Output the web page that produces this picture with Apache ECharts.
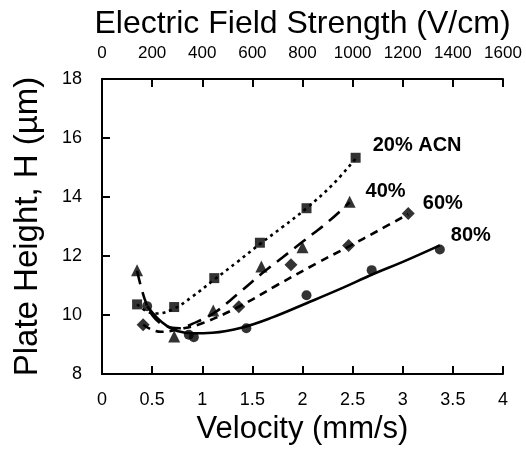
<!DOCTYPE html>
<html><head><meta charset="utf-8">
<script src="https://cdn.jsdelivr.net/npm/echarts@6/dist/echarts.min.js"></script>
<style>html,body{margin:0;padding:0;background:#fff}#c{width:526px;height:450px}</style>
</head><body><div id="c"></div>
<script>
// Measured points [velocity mm/s, plate height um]
const pts20 = [[0.35,10.36],[0.72,10.27],[1.12,11.25],[1.575,12.45],[2.04,13.62],[2.53,15.33]];
const pts40 = [[0.35,11.52],[0.72,9.27],[1.11,10.15],[1.59,11.64],[2.0,12.3],[2.47,13.84]];
const pts60 = [[0.41,9.67],[1.365,10.28],[1.885,11.7],[2.46,12.36],[3.055,13.44]];
const pts80 = [[0.45,10.3],[0.866,9.33],[0.916,9.25],[1.44,9.55],[2.04,10.67],[2.69,11.52],[3.37,12.22]];
// Fitted curves
const fit20 = [[0.35,10.36],[0.45,10.12],[0.55,10.05],[0.72,10.22],[0.9,10.62],[1.12,11.2],[1.35,11.8],[1.58,12.42],[1.8,12.98],[2.04,13.62],[2.3,14.42],[2.53,15.3]];
const fit40 = [[0.35,11.5],[0.42,10.6],[0.5,10.0],[0.62,9.65],[0.77,9.55],[0.9,9.7],[1.11,10.05],[1.35,10.7],[1.6,11.42],[1.8,11.95],[2.0,12.48],[2.27,13.2],[2.47,13.82]];
const fit60 = [[0.41,9.67],[0.5,9.5],[0.59,9.43],[0.77,9.52],[1.0,9.72],[1.365,10.28],[1.74,11.0],[2.14,11.75],[2.46,12.32],[2.75,12.85],[3.055,13.42]];
const fit80 = [[0.45,10.3],[0.55,9.9],[0.65,9.62],[0.75,9.46],[0.9,9.38],[1.1,9.4],[1.4,9.58],[1.7,9.92],[2.04,10.4],[2.4,10.92],[2.7,11.38],[3.0,11.8],[3.37,12.36]];
const seriesNames = ['20% ACN','40%','60%','80%'];
const xTicks = [0,0.5,1,1.5,2,2.5,3,3.5,4];
const topTicks = [0,200,400,600,800,1000,1200,1400,1600];
const yTicks = [8,10,12,14,16,18];

const FONT = 'Liberation Sans, Arial, sans-serif';
const chart = echarts.init(document.getElementById('c'), null, {renderer:'canvas'});

function markers(name, pts, symbol, size, off){
  return {
    name, type:'scatter', xAxisIndex:0, yAxisIndex:0, symbol, symbolSize:size,
    itemStyle:{color:'#000'}, z:5,
    data: pts.map((p,i)=> i===pts.length-1 ? {value:p, label:{show:true, formatter:name, position:'right', offset:off,
      fontFamily:FONT, fontWeight:'bold', fontSize:20, color:'#000', opacity:1}} : {value:p})
  };
}
function curve(name, pts, type){
  return {name:name+' fit', type:'line', xAxisIndex:0, yAxisIndex:0, smooth:0.4, symbol:'none', data:pts,
    lineStyle:{color:'#000', width:2.6, type}, z:3};
}
const axisCommon = {
  axisLine:{show:true, onZero:false, lineStyle:{color:'#000', width:2}},
  axisTick:{show:true, inside:true, length:8, lineStyle:{color:'#000', width:2}},
  splitLine:{show:false},
  nameTextStyle:{fontFamily:FONT, fontSize:31, color:'#000'},
  nameLocation:'middle'
};
chart.setOption({
  animation:false,
  backgroundColor:'#fff',
  grid:{left:102, right:23, top:79, bottom:76},
  xAxis:[
    Object.assign({}, axisCommon, {type:'value', position:'bottom', min:xTicks[0], max:xTicks[xTicks.length-1], interval:0.5,
      name:'Velocity (mm/s)', nameGap:38,
      axisLabel:{fontFamily:FONT, fontSize:18, color:'#000', margin:17, formatter:v=>String(v)}}),
    Object.assign({}, axisCommon, {type:'value', position:'top', min:topTicks[0], max:topTicks[topTicks.length-1], interval:200,
      name:'Electric Field Strength (V/cm)', nameGap:39, nameTextStyle:{fontFamily:FONT, fontSize:32, color:'#000'},
      axisLabel:{fontFamily:FONT, fontSize:17, color:'#000', margin:17, formatter:v=>String(v)}})
  ],
  yAxis:[
    Object.assign({}, axisCommon, {type:'value', position:'left', min:yTicks[0], max:yTicks[yTicks.length-1], interval:2,
      name:'Plate Height, H (\u00b5m)', nameGap:58, nameTextStyle:{fontFamily:FONT, fontSize:33, color:'#000'},
      axisLabel:{fontFamily:FONT, fontSize:18, color:'#000', margin:20, formatter:v=>String(v)}}),
    {type:'value', position:'right', min:8, max:18, interval:2,
      axisLine:{show:true, lineStyle:{color:'#000', width:2}}, axisTick:{show:false}, axisLabel:{show:false}, splitLine:{show:false}}
  ],
  series:[
    curve(seriesNames[0], fit20, [3,4]),
    curve(seriesNames[1], fit40, [14,8]),
    curve(seriesNames[2], fit60, [8,6]),
    curve(seriesNames[3], fit80, 'solid'),
    markers(seriesNames[0], pts20, 'rect', 10, [7,-12]),
    markers(seriesNames[1], pts40, 'triangle', 12, [5,-10]),
    markers(seriesNames[2], pts60, 'diamond', 13, [3,-10]),
    markers(seriesNames[3], pts80, 'circle', 10, [1,-14])
  ]
});
</script></body></html>
